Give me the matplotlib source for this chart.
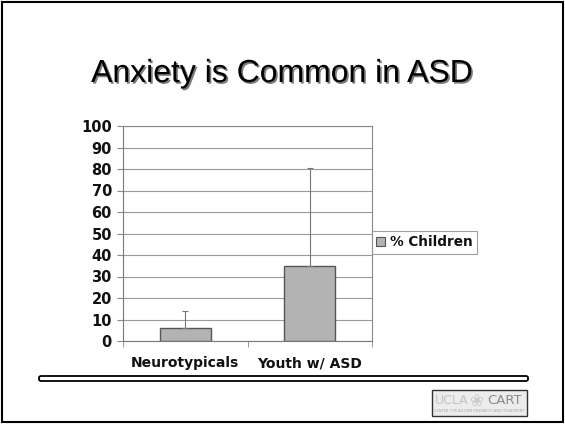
import numpy as np
import matplotlib.pyplot as plt
import matplotlib.patheffects as pe
from matplotlib.patches import Rectangle, FancyBboxPatch

categories = ['Neurotypicals', 'Youth w/ ASD']
percent_children = [6, 35]
upper_err = [8, 45.5]
y_ticks = [0, 10, 20, 30, 40, 50, 60, 70, 80, 90, 100]

W, H = 565, 424


def px_box(x0, y0, x1, y1):
    # pixel box (top-left origin) -> figure fraction [left, bottom, width, height]
    return [x0 / W, (H - y1) / H, (x1 - x0) / W, (y1 - y0) / H]


fig = plt.figure(figsize=(W / 100, H / 100), dpi=100)
fig.patch.set_facecolor('white')

# slide frame
fig.patches.append(Rectangle((2 / W, 2 / H), (W - 4) / W, (H - 4) / H,
                             transform=fig.transFigure, fill=False,
                             edgecolor='black', linewidth=1.5))

fig.text(0.5, (H - 82) / H, 'Anxiety is Common in ASD', ha='center', va='baseline',
         fontsize=23, family='Liberation Sans', color='black',
         path_effects=[pe.withSimplePatchShadow(offset=(1.2, -1.2), shadow_rgbFace='#444444', alpha=0.7)])

ax = fig.add_axes(px_box(123, 126, 372, 341))
x = np.arange(len(categories))
ax.bar(x, percent_children, width=0.41, color='#b3b3b3', edgecolor='#555555',
       linewidth=1.0, zorder=3)
ax.errorbar(x, percent_children, yerr=[np.zeros(len(x)), upper_err], fmt='none',
            ecolor='#777777', elinewidth=0.8, capsize=2, capthick=0.8, zorder=4)

ax.set_xlim(-0.5, 1.5)
ax.set_ylim(0, 100)
ax.set_yticks(y_ticks)
ax.set_yticklabels([str(v) for v in y_ticks], fontsize=10.5, fontweight='bold',
                   family='DejaVu Sans', color='#111111')
ax.set_xticks(x)
ax.set_xticklabels(categories, fontsize=10, fontweight='bold',
                   family='DejaVu Sans', color='#111111')
ax.set_xticks([-0.5, 0.5, 1.5], minor=True)
ax.tick_params(axis='x', which='major', length=0, pad=11)
ax.tick_params(axis='x', which='minor', length=4, color='#888888', direction='out')
ax.tick_params(axis='y', length=4, color='#888888', direction='out', pad=4)
ax.yaxis.grid(True, color='#999999', linewidth=0.8, zorder=0)
for s in ax.spines.values():
    s.set_color('#888888')
    s.set_linewidth(0.8)
ax.spines['left'].set_color('#777777')
ax.spines['bottom'].set_color('#777777')

leg = fig.legend([Rectangle((0, 0), 1, 1, facecolor='#b3b3b3', edgecolor='#555555', linewidth=0.8)],
                 ['% Children'], loc='center left',
                 bbox_to_anchor=(372 / W, (H - 242.5) / H),
                 prop={'family': 'DejaVu Sans', 'weight': 'bold', 'size': 9.8},
                 frameon=True, fancybox=False, edgecolor='#888888',
                 handlelength=0.65, handleheight=0.65, handletextpad=0.35,
                 borderpad=0.3, borderaxespad=0)
leg.get_frame().set_linewidth(0.8)
for t in leg.get_texts():
    t.set_color('#111111')

# bottom decorative bar
fig.patches.append(FancyBboxPatch((39 / W, (H - 381) / H), (528 - 39) / W, 5 / H,
                                  boxstyle='round,pad=0,rounding_size=0.004',
                                  transform=fig.transFigure, facecolor='white',
                                  edgecolor='black', linewidth=1.3))

# logo box
fig.patches.append(Rectangle((432 / W, (H - 416) / H), 95 / W, 26 / H,
                             transform=fig.transFigure, facecolor='#ececec',
                             edgecolor='#333333', linewidth=1.0))
fig.text(452 / W, (H - 401) / H, 'UCLA', ha='center', va='center', fontsize=9,
         color='#c4c4c4', family='DejaVu Sans')
fig.text(476 / W, (H - 401) / H, '\u2740', ha='center', va='center', fontsize=12,
         color='#cccccc', family='DejaVu Sans')
fig.text(505 / W, (H - 401) / H, 'CART', ha='center', va='center', fontsize=9.5,
         color='#8a8a8a', family='DejaVu Sans')
fig.text(479 / W, (H - 411) / H, 'CENTER FOR AUTISM RESEARCH AND TREATMENT',
         ha='center', va='center', fontsize=2.6, color='#aaaaaa', family='DejaVu Sans')

fig.savefig('out.png', dpi=100)
